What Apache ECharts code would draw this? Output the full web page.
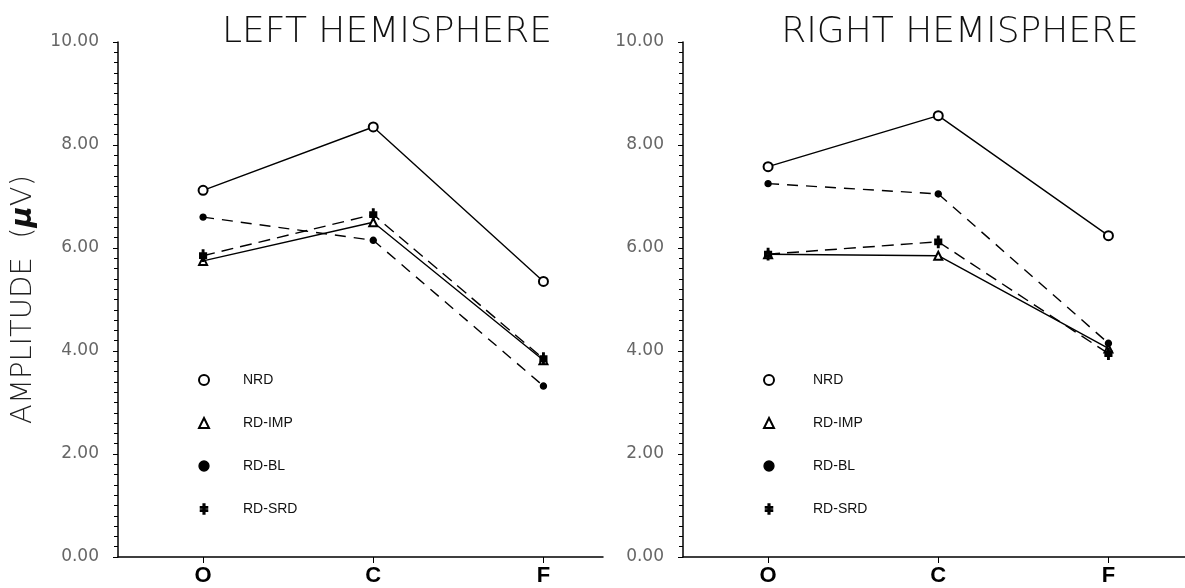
<!DOCTYPE html>
<html>
<head>
<meta charset="utf-8">
<script src="https://cdn.jsdelivr.net/npm/echarts@6/dist/echarts.min.js"></script>
<style>html,body{margin:0;padding:0;background:#fff;}#c{width:1185px;height:588px;}</style>
</head>
<body>
<div id="c"></div>
<script>
// ---- data ----
const sites = ['O', 'C', 'F'];
const groups = ['NRD', 'RD-IMP', 'RD-BL', 'RD-SRD'];
const panelTitles = ['LEFT HEMISPHERE', 'RIGHT HEMISPHERE'];
const yTicks = [0, 2, 4, 6, 8, 10];

const leftNRD = [7.12, 8.35, 5.35];
const leftIMP = [5.75, 6.50, 3.82];
const leftBL  = [6.60, 6.15, 3.32];
const leftSRD = [5.85, 6.65, 3.85];

const rightNRD = [7.58, 8.57, 6.24];
const rightIMP = [5.88, 5.85, 4.05];
const rightBL  = [7.25, 7.05, 4.15];
const rightSRD = [5.88, 6.12, 3.95];

// ---- styling ----
const daggerPath = 'path://M4,0 L6,0 L6,3 L9,3 L9,4.6 L6,4.6 L6,6.4 L9,6.4 L9,8 L6,8 L6,11 L4,11 L4,8 L1,8 L1,6.4 L4,6.4 L4,4.6 L1,4.6 L1,3 L4,3 Z';
const styles = {
  'NRD':    {symbol: 'emptyCircle',   size: 9, type: 'solid',  legendIcon: 'emptyCircle'},
  'RD-IMP': {symbol: 'emptyTriangle', size: 8, type: 'solid',  legendIcon: 'emptyTriangle'},
  'RD-BL':  {symbol: 'circle',        size: 6, type: [11, 8],  legendIcon: 'circle'},
  'RD-SRD': {symbol: daggerPath,      size: [7, 11], type: [12, 7], legendIcon: daggerPath}
};
const panelData = [
  {'NRD': leftNRD, 'RD-IMP': leftIMP, 'RD-BL': leftBL, 'RD-SRD': leftSRD},
  {'NRD': rightNRD, 'RD-IMP': rightIMP, 'RD-BL': rightBL, 'RD-SRD': rightSRD}
];

const thinFont = "'DejaVu Sans', 'Liberation Sans', sans-serif";

const grids = [
  {left: 118, top: 42, width: 485, height: 515},
  {left: 683, top: 42, width: 502, height: 515}
];
const xMax = [2.35, 2.45];

const xAxes = [0, 1].map(i => ({
  type: 'value', gridIndex: i, min: -0.5, max: xMax[i],
  axisLine: {show: true, onZero: false, lineStyle: {color: '#000', width: 1.5}},
  splitLine: {show: false},
  axisTick: {show: true, customValues: [0, 1, 2], length: 6, lineStyle: {color: '#000', width: 1}},
  axisLabel: {
    customValues: [0, 1, 2], margin: 8,
    formatter: v => sites[Math.round(v)] || '',
    color: '#000', fontSize: 22, fontWeight: 'bold',
    fontFamily: "'Liberation Sans', sans-serif"
  }
}));

const yAxes = [0, 1].map(i => ({
  type: 'value', gridIndex: i, min: yTicks[0], max: yTicks[yTicks.length - 1], interval: 2,
  axisLine: {show: true, onZero: false, lineStyle: {color: '#000', width: 1.5}},
  splitLine: {show: false},
  axisTick: {show: true, length: 5, lineStyle: {color: '#000', width: 1}},
  minorTick: {show: true, splitNumber: 10, length: 4, lineStyle: {color: '#000', width: 1}},
  axisLabel: {
    margin: 19, color: '#666', fontSize: 17, fontFamily: thinFont,
    formatter: v => v.toFixed(2)
  },
  name: i === 0 ? '{a|AMPLITUDE  (}{m|μ}{a|V)}' : '',
  nameLocation: 'middle', nameGap: 80, nameRotate: 90,
  nameTextStyle: {
    rich: {
      a: {fontSize: 29, fontWeight: 'lighter', color: '#222', fontFamily: thinFont},
      m: {fontSize: 29, fontWeight: 'bold', fontStyle: 'italic', color: '#111', fontFamily: thinFont}
    }
  }
}));

const series = [];
[0, 1].forEach(p => {
  groups.forEach(g => {
    const st = styles[g];
    series.push({
      name: g, type: 'line', xAxisIndex: p, yAxisIndex: p,
      data: panelData[p][g].map((v, k) => [k, v]),
      symbol: st.symbol, symbolSize: st.size, showSymbol: true,
      lineStyle: {color: '#000', width: 1.4, type: st.type},
      itemStyle: {color: '#000', borderColor: '#000', borderWidth: 1.4},
      z: 3, animation: false
    });
  });
});

const legendX = [198, 763];
const legendPad = [29, 34];
const legends = [0, 1].map(p => ({
  orient: 'vertical', left: legendX[p], top: 373, padding: 0,
  itemWidth: 10, itemHeight: 10, itemGap: 29,
  selectedMode: false,
  data: groups.map(g => ({
    name: g, icon: styles[g].legendIcon,
    itemStyle: {color: '#000', borderColor: '#000', borderWidth: 1.3}
  })),
  textStyle: {
    fontSize: 14, color: '#111', padding: [0, 0, 0, legendPad[p]],
    fontFamily: "'Liberation Sans', sans-serif"
  }
}));

const titles = [0, 1].map(p => ({
  text: panelTitles[p], left: p === 0 ? 382 : 955, top: 10, textAlign: 'center',
  textStyle: {fontSize: 36, fontWeight: 'lighter', color: '#111', fontFamily: thinFont}
}));

const chart = echarts.init(document.getElementById('c'), null, {renderer: 'canvas'});
chart.setOption({
  animation: false,
  backgroundColor: '#fff',
  title: titles,
  legend: legends,
  grid: grids,
  xAxis: xAxes,
  yAxis: yAxes,
  series: series
});
</script>
</body>
</html>
